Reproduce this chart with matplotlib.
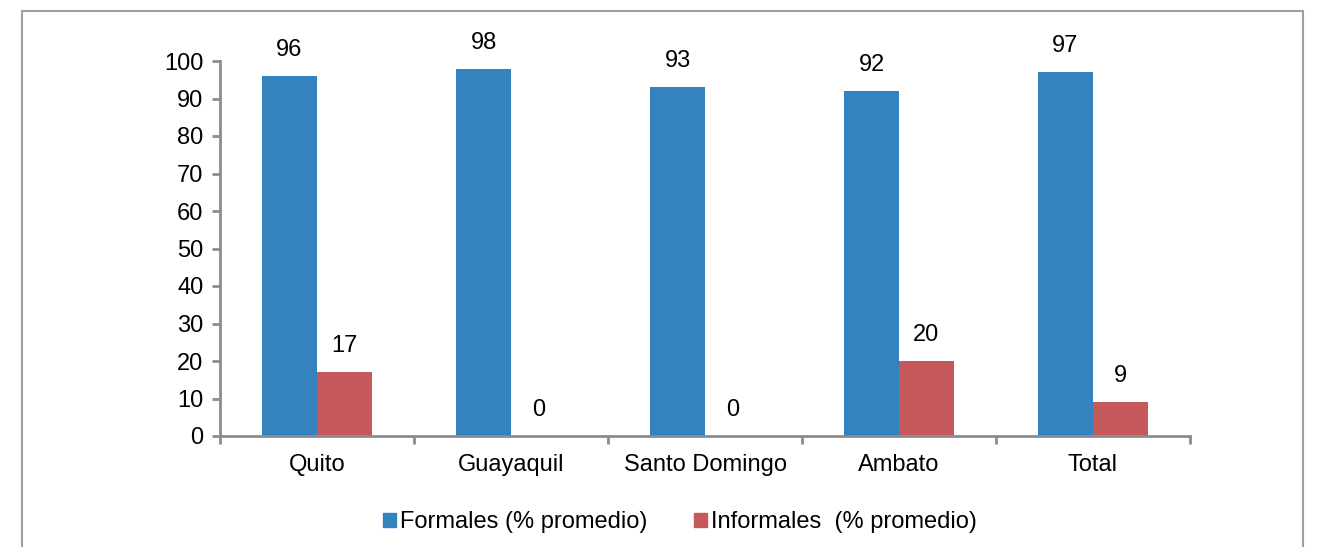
import matplotlib
matplotlib.use('Agg')
from matplotlib import pyplot as plt
from matplotlib.patches import Rectangle, Patch
import numpy as np

categories = ['Quito', 'Guayaquil', 'Santo Domingo', 'Ambato', 'Total']
formales = [96, 98, 93, 92, 97]
informales = [17, 0, 0, 20, 9]
series_names = ['Formales (% promedio)', 'Informales  (% promedio)']

plt.rcParams['font.family'] = ['Liberation Sans', 'DejaVu Sans']

blue = '#3483BF'
red = '#C4585A'
grey = '#8C8C8C'
fs = 17

fig = plt.figure(figsize=(13.18, 5.47), dpi=100)
ax = fig.add_axes([220/1318, 111/547, 970/1318, 375/547])

# border around the chart area
fig.patches.append(Rectangle((22/1318, -0.05), (1303-22)/1318, (547-11)/547 + 0.05,
                             transform=fig.transFigure, fill=False,
                             edgecolor='#A0A0A0', linewidth=1.5))

x = np.arange(len(categories))
w = 0.283
b1 = ax.bar(x - w/2, formales, w, color=blue)
b2 = ax.bar(x + w/2, informales, w, color=red)

for bars, vals in ((b1, formales), (b2, informales)):
    for bar, v in zip(bars, vals):
        ax.text(bar.get_x() + bar.get_width()/2, v + 5.3, str(v),
                ha='center', va='baseline', fontsize=fs)

ax.set_xlim(-0.5, len(categories) - 0.5)
ax.set_ylim(0, 100)
ax.set_yticks(range(0, 101, 10))
ax.set_xticks(x)
ax.set_xticklabels(categories)
ax.set_xticks(np.arange(-0.5, len(categories), 1), minor=True)
ax.tick_params(axis='x', which='major', length=0, pad=13, labelsize=fs)
ax.tick_params(axis='x', which='minor', length=6, width=2, color=grey, direction='out')
ax.tick_params(axis='y', length=6, width=2, color=grey, pad=6, labelsize=fs)

for s in ['top', 'right']:
    ax.spines[s].set_visible(False)
for s in ['left', 'bottom']:
    ax.spines[s].set_color(grey)
    ax.spines[s].set_linewidth(2)

handles = [Patch(color=blue), Patch(color=red)]
fig.legend(handles, series_names, loc='center', bbox_to_anchor=(680/1318, 25/547),
           ncol=2, frameon=False, fontsize=fs, handlelength=0.55, handleheight=0.55,
           handletextpad=0.15, columnspacing=2.0)

fig.savefig('out.png', dpi=100)
